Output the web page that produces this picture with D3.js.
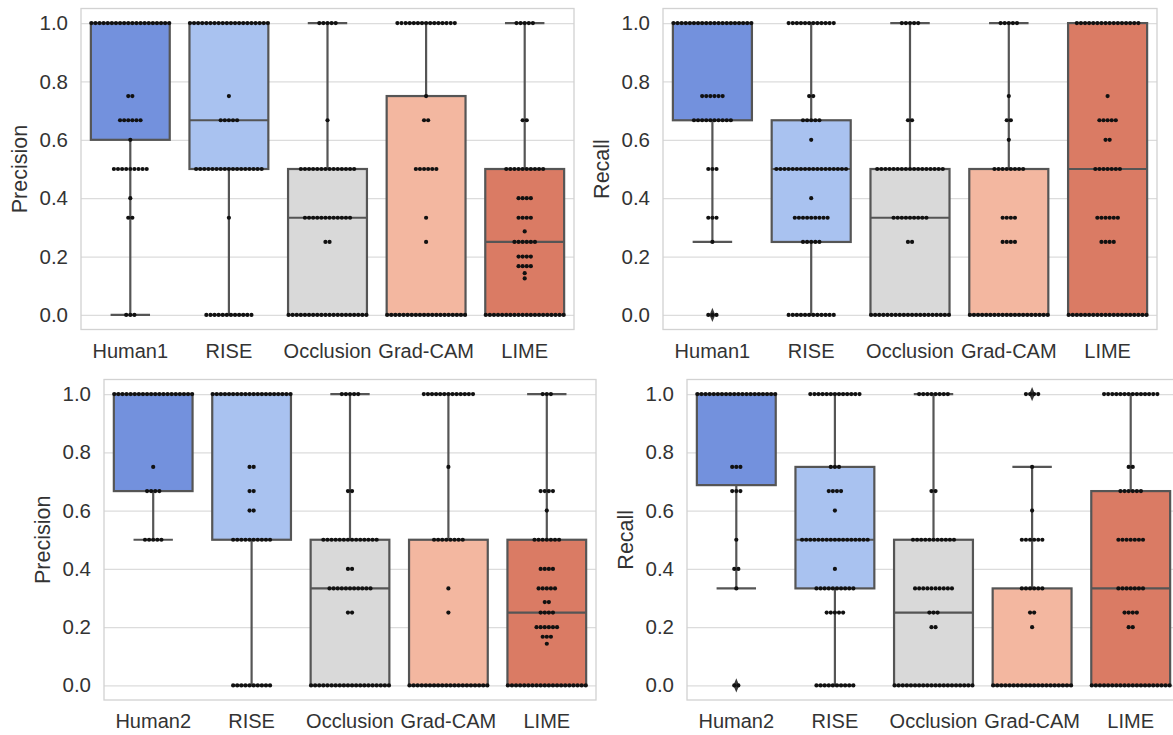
<!DOCTYPE html>
<html>
<head>
<meta charset="utf-8">
<script src="https://cdn.jsdelivr.net/npm/d3@7"></script>
<style>
  body { margin: 0; background: #fff; }
  text { font-family: "Liberation Sans", Arial, sans-serif; fill: #333; }
</style>
</head>
<body>
<script>
const methodsTop = ['Human1', 'RISE', 'Occlusion', 'Grad-CAM', 'LIME'];
const methodsBottom = ['Human2', 'RISE', 'Occlusion', 'Grad-CAM', 'LIME'];
const yTicks = [0, 0.2, 0.4, 0.6, 0.8, 1.0];
const palette = ['#7391dd', '#a9c2f0', '#d9d9d9', '#f3b7a0', '#da7b64'];

// box stats per method: [q1, median, q3, whiskerLow, whiskerHigh]
const precisionTopBox = [[0.6, 1, 1, 0, 1], [0.5, 0.667, 1, 0, 1], [0, 0.333, 0.5, 0, 1], [0, 0, 0.75, 0, 1], [0, 0.25, 0.5, 0, 1]];
const recallTopBox = [[0.667, 1, 1, 0.25, 1], [0.25, 0.5, 0.667, 0, 1], [0, 0.333, 0.5, 0, 1], [0, 0, 0.5, 0, 1], [0, 0.5, 1, 0, 1]];
const precisionBottomBox = [[0.667, 1, 1, 0.5, 1], [0.5, 1, 1, 0, 1], [0, 0.333, 0.5, 0, 1], [0, 0, 0.5, 0, 1], [0, 0.25, 0.5, 0, 1]];
const recallBottomBox = [[0.6875, 1, 1, 0.333, 1], [0.333, 0.5, 0.75, 0, 1], [0, 0.25, 0.5, 0, 1], [0, 0, 0.333, 0, 0.75], [0, 0.333, 0.667, 0, 1]];

// outliers per method
const recallTopFliers = [[0], [], [], [], []];
const recallBottomFliers = [[0], [], [], [1], []];

// swarm points per method: [value, count]
const precisionTopSwarm = [
  [[1, 20], [0.75, 2], [0.667, 6], [0.6, 1], [0.5, 9], [0.4, 1], [0.333, 2], [0, 3]],
  [[1, 20], [0.75, 1], [0.667, 5], [0.5, 17], [0.333, 1], [0, 12]],
  [[1, 5], [0.667, 1], [0.5, 14], [0.333, 12], [0.25, 2], [0, 20]],
  [[1, 15], [0.75, 1], [0.667, 2], [0.5, 6], [0.333, 1], [0.25, 1], [0, 20]],
  [[1, 5], [0.667, 2], [0.5, 10], [0.4, 4], [0.333, 4], [0.286, 1], [0.25, 6], [0.2, 4], [0.167, 4], [0.143, 1], [0.125, 1], [0, 20]],
];
const recallTopSwarm = [
  [[1, 20], [0.75, 6], [0.667, 10], [0.5, 3], [0.333, 3], [0.25, 1], [0, 3]],
  [[1, 12], [0.75, 2], [0.667, 5], [0.6, 1], [0.5, 18], [0.4, 1], [0.333, 9], [0.25, 5], [0, 12]],
  [[1, 5], [0.667, 2], [0.5, 17], [0.333, 9], [0.25, 2], [0, 20]],
  [[1, 5], [0.75, 1], [0.667, 2], [0.6, 1], [0.5, 8], [0.333, 4], [0.25, 4], [0, 20]],
  [[1, 16], [0.75, 1], [0.667, 5], [0.6, 2], [0.5, 7], [0.333, 6], [0.25, 4], [0, 20]],
];
const precisionBottomSwarm = [
  [[1, 20], [0.75, 1], [0.667, 4], [0.5, 5]],
  [[1, 20], [0.75, 2], [0.667, 2], [0.6, 2], [0.5, 10], [0, 10]],
  [[1, 5], [0.667, 2], [0.5, 14], [0.4, 2], [0.333, 11], [0.25, 2], [0, 20]],
  [[1, 13], [0.75, 1], [0.5, 8], [0.333, 1], [0.25, 1], [0, 20]],
  [[1, 3], [0.667, 4], [0.6, 1], [0.5, 7], [0.4, 4], [0.333, 5], [0.286, 2], [0.25, 4], [0.2, 6], [0.167, 3], [0.143, 1], [0, 20]],
];
const recallBottomSwarm = [
  [[1, 20], [0.75, 3], [0.667, 3], [0.5, 1], [0.4, 2], [0.333, 1], [0, 2]],
  [[1, 13], [0.75, 3], [0.667, 4], [0.6, 1], [0.5, 17], [0.4, 1], [0.333, 10], [0.25, 5], [0, 10]],
  [[1, 8], [0.667, 2], [0.5, 11], [0.333, 10], [0.25, 3], [0.2, 2], [0, 20]],
  [[1, 4], [0.75, 1], [0.6, 1], [0.5, 6], [0.333, 6], [0.25, 2], [0.2, 1], [0, 20]],
  [[1, 14], [0.75, 2], [0.667, 6], [0.5, 7], [0.333, 7], [0.25, 4], [0.2, 2], [0, 20]],
];

const panels = [
  { frame: [81, 574, 8.5, 329.5], label: 'Precision', methods: methodsTop, box: precisionTopBox, swarm: precisionTopSwarm, fliers: [] },
  { frame: [663, 1157, 8.5, 329.5], label: 'Recall', methods: methodsTop, box: recallTopBox, swarm: recallTopSwarm, fliers: recallTopFliers },
  { frame: [104, 596, 379.5, 700], label: 'Precision', methods: methodsBottom, box: precisionBottomBox, swarm: precisionBottomSwarm, fliers: [] },
  { frame: [687, 1180, 379.5, 700], label: 'Recall', methods: methodsBottom, box: recallBottomBox, swarm: recallBottomSwarm, fliers: recallBottomFliers },
];

const edge = '#555';
const dotStep = 4.1;

const svg = d3.select('body')
  .append('svg')
  .attr('width', 1173)
  .attr('height', 735);

panels.forEach(drawPanel);

function drawPanel(p) {
  const [x0, x1, top, bottom] = p.frame;
  const g = svg.append('g');

  const x = d3.scaleBand().domain(p.methods).range([x0, x1]);
  const y = d3.scaleLinear().domain([-0.05, 1.05]).range([bottom, top]);
  const bw = x.bandwidth() * 0.8;
  const cx = m => x(m) + x.bandwidth() / 2;

  const yAxis = d3.axisLeft(y)
    .tickValues(yTicks)
    .tickSize(-(x1 - x0))
    .tickPadding(13)
    .tickFormat(d3.format('.1f'));

  g.append('g')
    .attr('transform', `translate(${x0},0)`)
    .call(yAxis)
    .call(a => a.select('.domain').remove())
    .call(a => a.selectAll('line').attr('stroke', '#dcdcdc').attr('stroke-width', 1.2))
    .call(a => a.selectAll('text').style('font-size', '20.5px').attr('fill', '#333'));

  g.append('g')
    .attr('transform', `translate(0,${bottom})`)
    .call(d3.axisBottom(x).tickSize(0).tickPadding(14))
    .call(a => a.select('.domain').remove())
    .call(a => a.selectAll('text').style('font-size', '20px').attr('fill', '#333'));

  g.append('rect')
    .attr('x', x0).attr('y', top)
    .attr('width', x1 - x0).attr('height', bottom - top)
    .attr('fill', 'none').attr('stroke', '#d2d2d2').attr('stroke-width', 1.3);

  g.append('text')
    .attr('transform', `translate(${x0 - 54},${(top + bottom) / 2}) rotate(-90)`)
    .attr('text-anchor', 'middle')
    .style('font-size', '21.5px')
    .text(p.label);

  const boxes = g.selectAll('.box')
    .data(p.methods.map((m, i) => ({ m, i, s: p.box[i] })))
    .join('g')
    .attr('class', 'box');

  // whiskers
  boxes.append('line')
    .attr('x1', d => cx(d.m)).attr('x2', d => cx(d.m))
    .attr('y1', d => y(d.s[3])).attr('y2', d => y(d.s[0]))
    .attr('stroke', edge).attr('stroke-width', 2.2);
  boxes.append('line')
    .attr('x1', d => cx(d.m)).attr('x2', d => cx(d.m))
    .attr('y1', d => y(d.s[2])).attr('y2', d => y(d.s[4]))
    .attr('stroke', edge).attr('stroke-width', 2.2);
  [3, 4].forEach(k => {
    boxes.append('line')
      .attr('x1', d => cx(d.m) - bw / 4).attr('x2', d => cx(d.m) + bw / 4)
      .attr('y1', d => y(d.s[k])).attr('y2', d => y(d.s[k]))
      .attr('stroke', edge).attr('stroke-width', 2.2);
  });

  boxes.append('rect')
    .attr('x', d => cx(d.m) - bw / 2)
    .attr('width', bw)
    .attr('y', d => y(d.s[2]))
    .attr('height', d => y(d.s[0]) - y(d.s[2]))
    .attr('fill', d => palette[d.i])
    .attr('stroke', edge).attr('stroke-width', 2.2);

  boxes.append('line')
    .attr('x1', d => cx(d.m) - bw / 2).attr('x2', d => cx(d.m) + bw / 2)
    .attr('y1', d => y(d.s[1])).attr('y2', d => y(d.s[1]))
    .attr('stroke', edge).attr('stroke-width', 2.2);

  // outliers
  const fl = [];
  p.fliers.forEach((vals, i) => vals.forEach(v => fl.push({ m: p.methods[i], v })));
  g.selectAll('.flier')
    .data(fl)
    .join('path')
    .attr('class', 'flier')
    .attr('d', d3.symbol(d3.symbolDiamond, 45))
    .attr('transform', d => `translate(${cx(d.m)},${y(d.v)}) scale(0.8,1.15)`)
    .attr('fill', '#3a3a3a');

  // swarm points
  const pts = [];
  p.swarm.forEach((rows, i) => rows.forEach(([v, n]) => {
    d3.range(n).forEach(k => pts.push({ m: p.methods[i], v, off: (k - (n - 1) / 2) * dotStep }));
  }));
  g.selectAll('.dot')
    .data(pts)
    .join('circle')
    .attr('class', 'dot')
    .attr('cx', d => cx(d.m) + d.off)
    .attr('cy', d => y(d.v))
    .attr('r', 2.1)
    .attr('fill', '#111');
}
</script>
</body>
</html>
